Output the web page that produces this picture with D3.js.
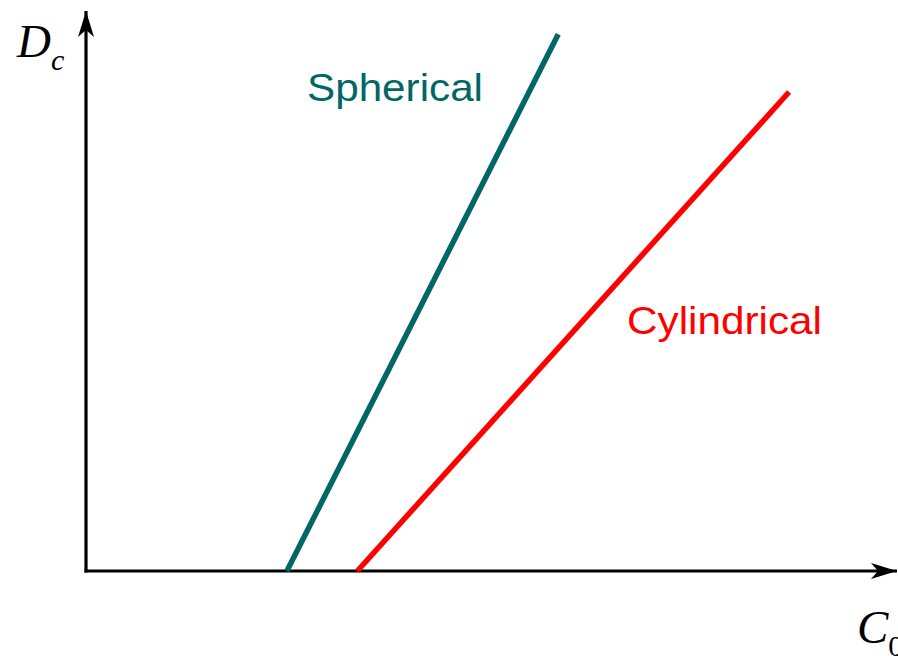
<!DOCTYPE html>
<html>
<head>
<meta charset="utf-8">
<script src="https://cdn.jsdelivr.net/npm/d3@7"></script>
<style>
  html, body { margin: 0; padding: 0; background: #fff; }
  svg { display: block; }
</style>
</head>
<body>
<svg id="chart" width="898" height="656"></svg>
<script>
// Critical value D_c against C_0 for two geometries (schematic units)
const seriesNames = ["Spherical", "Cylindrical"];
const seriesColors = ["#006666", "#ff0000"];
const sphericalC0 = [2.48, 5.83];
const sphericalDc = [0, 9.94];
const cylindricalC0 = [3.35, 8.68];
const cylindricalDc = [0, 8.87];

const W = 898, H = 656;
const origin = { x: 86, y: 571 };

const x = d3.scaleLinear().domain([0, 10]).range([origin.x, origin.x + 810]);
const y = d3.scaleLinear().domain([0, 10]).range([origin.y, origin.y - 540]);

const svg = d3.select("#chart");

// arrowheads for the axes
const defs = svg.append("defs");
defs.append("marker")
  .attr("id", "arrow")
  .attr("viewBox", "0 0 26 18")
  .attr("refX", 26).attr("refY", 9)
  .attr("markerWidth", 26).attr("markerHeight", 18)
  .attr("markerUnits", "userSpaceOnUse")
  .attr("orient", "auto")
  .append("path")
  .attr("d", "M0,1 L26,9 L0,17 L7,9 Z")
  .attr("fill", "#000");

// axes
svg.append("line")
  .attr("x1", x(0)).attr("y1", y(0) + 1.5)
  .attr("x2", x(0)).attr("y2", 11)
  .attr("stroke", "#000").attr("stroke-width", 3.2)
  .attr("marker-end", "url(#arrow)");
svg.append("line")
  .attr("x1", x(0) - 1.5).attr("y1", y(0))
  .attr("x2", 897).attr("y2", y(0))
  .attr("stroke", "#000").attr("stroke-width", 3.2)
  .attr("marker-end", "url(#arrow)");

// the two lines
const series = [
  { name: seriesNames[0], color: seriesColors[0], xs: sphericalC0, ys: sphericalDc },
  { name: seriesNames[1], color: seriesColors[1], xs: cylindricalC0, ys: cylindricalDc }
];
const line = d3.line().x(d => x(d[0])).y(d => y(d[1]));
series.forEach(s => {
  svg.append("path")
    .datum(d3.zip(s.xs, s.ys))
    .attr("d", line)
    .attr("fill", "none")
    .attr("stroke", s.color)
    .attr("stroke-width", 5.5);
});

// series labels
const labelPos = [[307, 101], [627, 334]];
const labelWidths = [176, 195];
series.forEach((s, i) => {
  svg.append("text")
    .attr("x", labelPos[i][0]).attr("y", labelPos[i][1])
    .attr("font-family", "Liberation Sans, Arial, sans-serif")
    .attr("font-size", 39)
    .attr("textLength", labelWidths[i])
    .attr("lengthAdjust", "spacingAndGlyphs")
    .attr("fill", s.color)
    .text(s.name);
});

// axis titles
const yTitle = svg.append("text")
  .attr("x", 17).attr("y", 57)
  .attr("font-family", "Liberation Serif, Times New Roman, serif")
  .attr("font-style", "italic")
  .attr("font-size", 47);
yTitle.append("tspan").text("D");
yTitle.append("tspan").attr("font-size", 30).attr("dy", 13).text("c");

const xTitle = svg.append("text")
  .attr("x", 857).attr("y", 643)
  .attr("font-family", "Liberation Serif, Times New Roman, serif")
  .attr("font-size", 47);
xTitle.append("tspan").attr("font-style", "italic").text("C");
xTitle.append("tspan").attr("font-size", 30).attr("dy", 13).text("0");
</script>
</body>
</html>
